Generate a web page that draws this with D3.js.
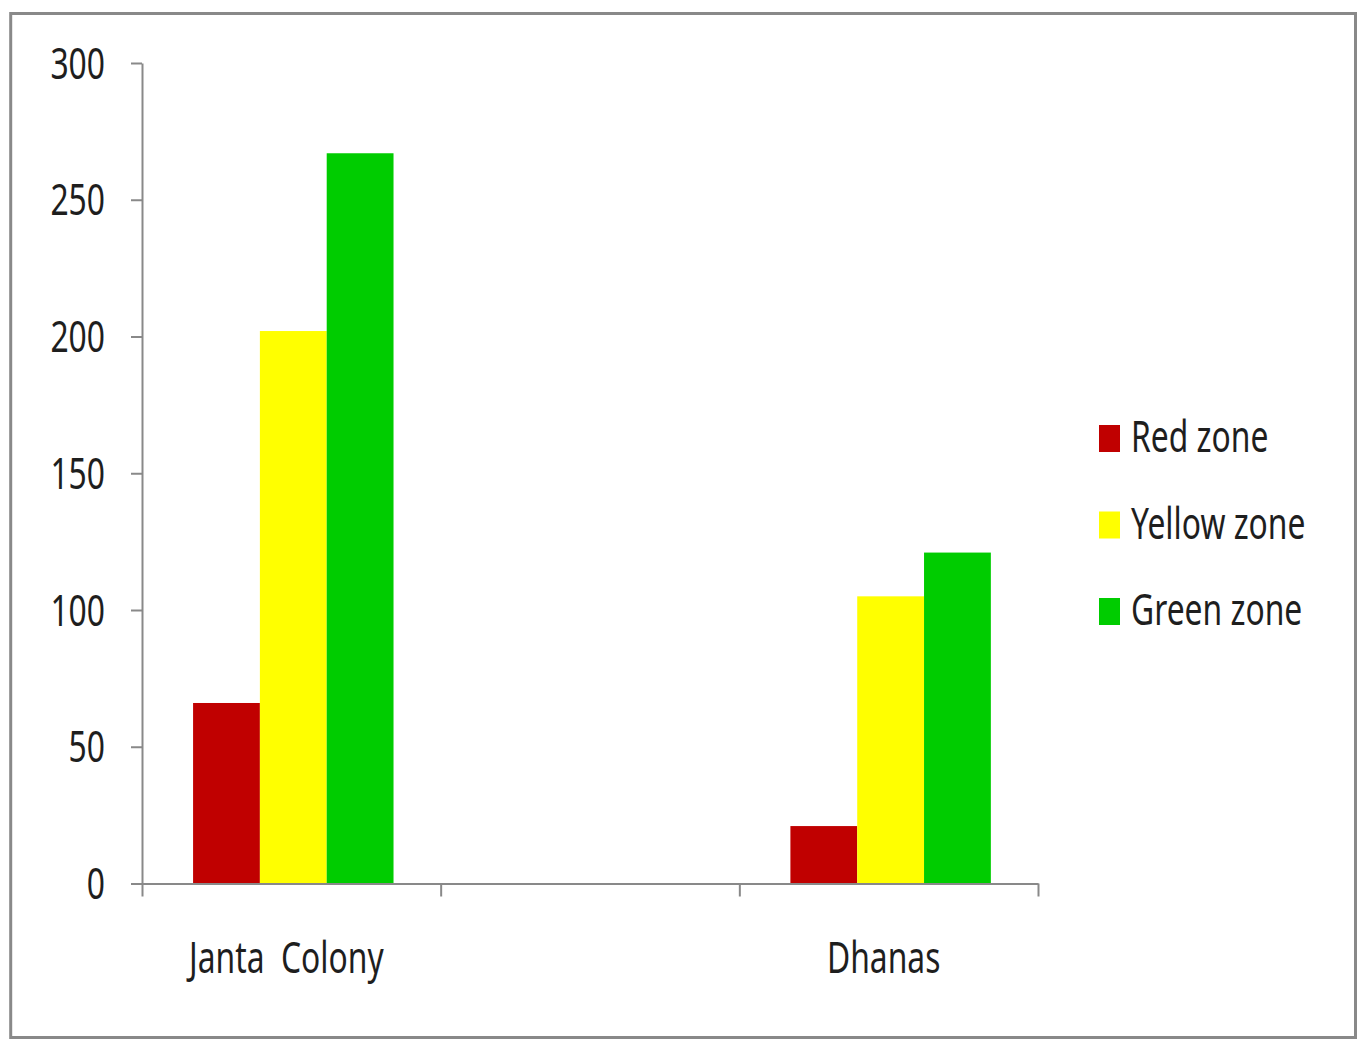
<!DOCTYPE html>
<html>
<head>
<meta charset="utf-8">
<script src="https://cdn.jsdelivr.net/npm/d3@7"></script>
<style>
  html, body { margin: 0; padding: 0; background: #ffffff; }
  svg { display: block; }
  text { font-family: "Noto Sans", "Open Sans", sans-serif; fill: #1e1e1e; white-space: pre; }
</style>
</head>
<body>
<svg id="chart" width="1359" height="1042"></svg>
<script>
// Zone counts per locality (middle slot is an empty category)
const categories = ["Janta  Colony", "", "Dhanas"];
const seriesNames = ["Red zone", "Yellow zone", "Green zone"];
const redZone = [66, null, 21];
const yellowZone = [202, null, 105];
const greenZone = [267, null, 121];
const seriesColors = ["#c00000", "#ffff00", "#00cc00"];
const yTicks = [0, 50, 100, 150, 200, 250, 300];

const seriesValues = [redZone, yellowZone, greenZone];

const svg = d3.select("#chart");
const axisColor = "#898989";
const textScaleX = 0.74;   // condensed look for the labels
const fontSize = 43;

// Outer frame
svg.append("rect")
  .attr("x", 10.7).attr("y", 13.5)
  .attr("width", 1344.8).attr("height", 1024)
  .attr("fill", "#ffffff")
  .attr("stroke", axisColor)
  .attr("stroke-width", 3);

const plot = { left: 142, right: 1038, top: 63, bottom: 883.5 };

const x = d3.scaleBand()
  .domain(categories)
  .range([plot.left, plot.right])
  .padding(0);

const xInner = d3.scaleBand()
  .domain(seriesNames)
  .range([0, x.bandwidth()])
  .paddingInner(0)
  .paddingOuter(0.735)
  .align(0.52);

const y = d3.scaleLinear()
  .domain([0, 300])
  .range([plot.bottom, plot.top]);

// Bars
const barData = [];
categories.forEach((c, ci) => {
  seriesNames.forEach((s, si) => {
    const v = seriesValues[si][ci];
    if (v != null) barData.push({ category: c, series: s, value: v, color: seriesColors[si] });
  });
});

svg.append("g").selectAll("rect")
  .data(barData)
  .join("rect")
  .attr("x", d => x(d.category) + xInner(d.series))
  .attr("y", d => y(d.value))
  .attr("width", xInner.bandwidth())
  .attr("height", d => y(0) - y(d.value))
  .attr("fill", d => d.color);

// Condensed text helper
function label(parent, tx, ty, str, anchor) {
  const g = parent.append("g").attr("transform", `translate(${tx},${ty})`);
  g.append("text")
    .attr("transform", `scale(${textScaleX},1)`)
    .attr("text-anchor", anchor)
    .attr("font-size", fontSize)
    .text(str);
  return g;
}

// Y axis
const yAxis = svg.append("g")
  .attr("transform", `translate(${plot.left},0)`)
  .call(d3.axisLeft(y).tickValues(yTicks).tickSize(11).tickSizeOuter(0).tickFormat(""));
yAxis.selectAll("path, line").attr("stroke", axisColor).attr("stroke-width", 2);

const yLabels = svg.append("g");
yTicks.forEach(t => label(yLabels, 105, y(t) + 15.5, String(t), "end"));

// X axis with boundary ticks between categories
const xEdges = d3.scaleLinear().domain([0, categories.length]).range([plot.left, plot.right]);
const xAxis = svg.append("g")
  .attr("transform", `translate(0,${plot.bottom})`)
  .call(d3.axisBottom(xEdges).tickValues(d3.range(categories.length + 1)).tickSize(13).tickSizeOuter(0).tickFormat(""));
xAxis.selectAll("path, line").attr("stroke", axisColor).attr("stroke-width", 2);

const xLabels = svg.append("g");
categories.forEach(c => {
  if (c) label(xLabels, x(c) + x.bandwidth() / 2 - 5, 973, c, "middle");
});

// Legend
const legend = svg.append("g").attr("transform", "translate(1099,425)");
seriesNames.forEach((s, i) => {
  const row = legend.append("g").attr("transform", `translate(0,${i * 86.5})`);
  row.append("rect").attr("width", 21).attr("height", 27).attr("fill", seriesColors[i]);
  label(row, 32, 27, s, "start");
});
</script>
</body>
</html>
